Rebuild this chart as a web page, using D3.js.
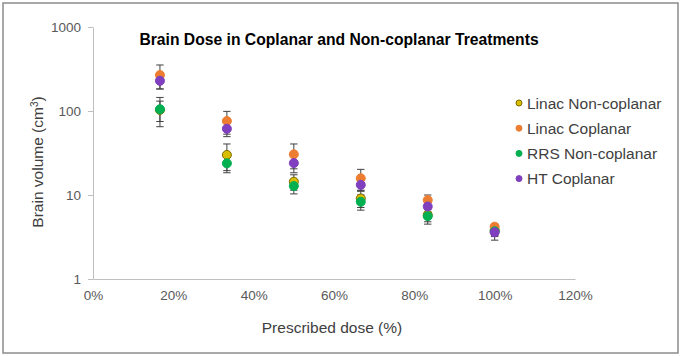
<!DOCTYPE html>
<html>
<head>
<meta charset="utf-8">
<script src="https://cdn.jsdelivr.net/npm/d3@7"></script>
<style>
  body { margin: 0; background: #fff; }
  svg { font-family: "Liberation Sans", Arial, sans-serif; }
</style>
</head>
<body>
<svg id="chart"></svg>
<script>
// dose levels (fraction of prescribed dose)
const doses = [1 / 6, 2 / 6, 3 / 6, 4 / 6, 5 / 6, 1];
const xTicks = [0, 0.2, 0.4, 0.6, 0.8, 1.0, 1.2];
const yTicks = [1, 10, 100, 1000];

const seriesNames = ["Linac Non-coplanar", "Linac Coplanar", "RRS Non-coplanar", "HT Coplanar"];
const seriesColors = ["#d9bd00", "#ed7d31", "#00b050", "#7f3fbf"];
const seriesStrokes = ["#7f6a00", "#ed7d31", "#00b050", "#7f3fbf"];

// brain volume (cm3) and error (+/-)
const linacNonCop = [103, 30, 14.4, 9.1, 5.8, 3.8];
const linacNonCopErr = [28, 10.5, 3, 2, 1, 0.5];
const linacCop = [268, 76, 30.5, 15.8, 8.7, 4.2];
const linacCopErr = [85, 23, 10, 4.4, 1.3, 0.3];
const rrsNonCop = [105, 23.8, 12.8, 8.3, 5.6, 3.7];
const rrsNonCopErr = [40, 5.4, 2.5, 1.7, 1.1, 0.5];
const htCop = [229, 61.5, 24, 13.2, 7.3, 3.6];
const htCopErr = [46, 12, 5.6, 2, 1, 0.7];

const values = [linacNonCop, linacCop, rrsNonCop, htCop];
const errors = [linacNonCopErr, linacCopErr, rrsNonCopErr, htCopErr];

const width = 681;
const height = 356;
const margin = { top: 27, right: 106, bottom: 77, left: 93 };

const svg = d3.select("#chart").attr("width", width).attr("height", height);

// outer frame
svg.append("rect")
  .attr("x", 3).attr("y", 3)
  .attr("width", 675).attr("height", 350)
  .attr("fill", "#fff")
  .attr("stroke", "#8c8c8c")
  .attr("stroke-width", 1.5);

const x = d3.scaleLinear().domain([0, 1.2]).range([margin.left, width - margin.right]);
const y = d3.scaleLog().domain([1, 1000]).range([height - margin.bottom, margin.top]);

// y axis
const yAxis = svg.append("g")
  .attr("transform", `translate(${margin.left},0)`)
  .call(d3.axisLeft(y).tickValues(yTicks).tickFormat(d3.format("d")).tickSize(5).tickSizeOuter(0).tickPadding(7));
yAxis.select(".domain").attr("stroke", "#bfbfbf");
yAxis.selectAll(".tick line").attr("stroke", "#bfbfbf");
yAxis.selectAll("text").attr("fill", "#595959").style("font-size", "13.5px");

// x axis
const xAxis = svg.append("g")
  .attr("transform", `translate(0,${height - margin.bottom})`)
  .call(d3.axisBottom(x).tickValues(xTicks).tickFormat(d3.format(".0%")).tickSize(0).tickSizeOuter(0).tickPadding(11));
xAxis.select(".domain").attr("stroke", "#bfbfbf");
xAxis.selectAll("text").attr("fill", "#595959").style("font-size", "13.5px");

// title
svg.append("text")
  .attr("x", 339).attr("y", 45)
  .attr("text-anchor", "middle")
  .style("font-size", "15.7px")
  .style("font-weight", "bold")
  .attr("fill", "#000")
  .text("Brain Dose in Coplanar and Non-coplanar Treatments");

// axis titles
svg.append("text")
  .attr("x", 332).attr("y", 333)
  .attr("text-anchor", "middle")
  .style("font-size", "15.5px")
  .attr("fill", "#404040")
  .text("Prescribed dose (%)");

const yTitle = svg.append("text")
  .attr("transform", "translate(43,162) rotate(-90)")
  .attr("text-anchor", "middle")
  .style("font-size", "15.5px")
  .attr("fill", "#404040");
yTitle.append("tspan").text("Brain volume (cm");
yTitle.append("tspan").attr("baseline-shift", "super").style("font-size", "10px").text("3");
yTitle.append("tspan").text(")");

// flatten points
const points = [];
values.forEach((vals, s) => {
  vals.forEach((v, i) => {
    points.push({ s, dose: doses[i], v, err: errors[s][i] });
  });
});

// error bars
const capW = 3.7;
const eb = svg.append("g").attr("stroke", "#404040").attr("stroke-width", 1);
points.forEach((p) => {
  const cx = x(p.dose);
  const y0 = y(p.v + p.err);
  const y1 = y(Math.max(p.v - p.err, 1.01));
  eb.append("line").attr("x1", cx).attr("x2", cx).attr("y1", y0).attr("y2", y1);
  eb.append("line").attr("x1", cx - capW).attr("x2", cx + capW).attr("y1", y0).attr("y2", y0);
  eb.append("line").attr("x1", cx - capW).attr("x2", cx + capW).attr("y1", y1).attr("y2", y1);
});

// markers
svg.append("g")
  .selectAll("circle")
  .data(points)
  .join("circle")
  .attr("cx", (d) => x(d.dose))
  .attr("cy", (d) => y(d.v))
  .attr("r", 4.5)
  .attr("fill", (d) => seriesColors[d.s])
  .attr("stroke", (d) => seriesStrokes[d.s])
  .attr("stroke-width", 1);

// legend
const legend = svg.append("g");
seriesNames.forEach((name, i) => {
  const ly = 103 + i * 25.2;
  legend.append("circle")
    .attr("cx", 519).attr("cy", ly)
    .attr("r", 3)
    .attr("fill", seriesColors[i])
    .attr("stroke", seriesStrokes[i])
    .attr("stroke-width", 1);
  legend.append("text")
    .attr("x", 527).attr("y", ly)
    .attr("dy", "0.36em")
    .style("font-size", "15.5px")
    .attr("fill", "#404040")
    .text(name);
});
</script>
</body>
</html>
